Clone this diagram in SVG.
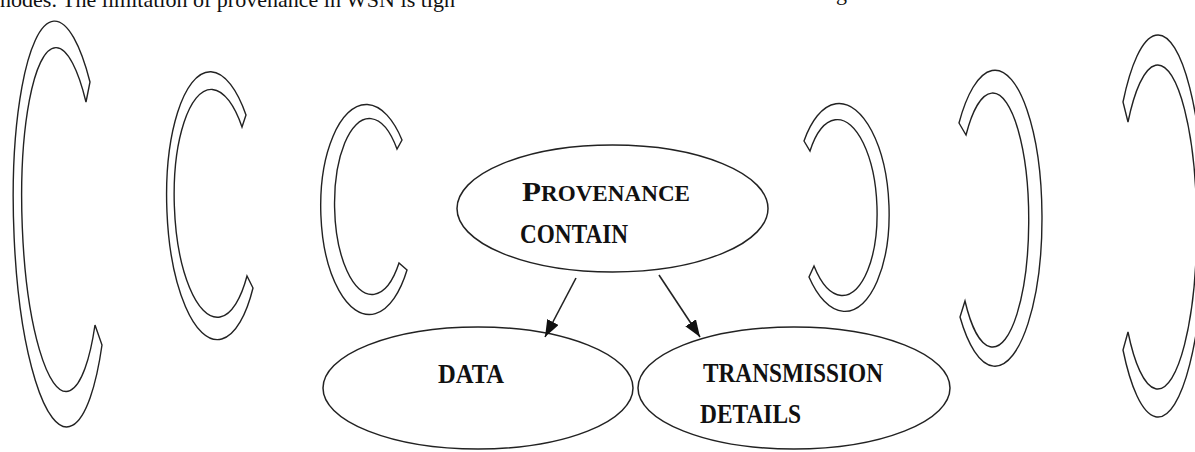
<svg xmlns="http://www.w3.org/2000/svg" width="1195" height="452" viewBox="0 0 1195 452">
<style>
.arc{fill:#fff;stroke:#222;stroke-width:1.4;stroke-linejoin:miter}
.node{fill:#fff;stroke:#222;stroke-width:1.5}
.lbl{font-family:"Liberation Serif","Times New Roman",serif;font-weight:bold;fill:#111}
.top{font-family:"Liberation Serif","Times New Roman",serif;font-size:22px;fill:#111}
.edge{stroke:#222;stroke-width:1.6;fill:none}
</style>
<defs>
<marker id="ah" viewBox="0 0 16 12" refX="16" refY="6" markerWidth="17" markerHeight="13" markerUnits="userSpaceOnUse" orient="auto">
<path d="M0,0 L16,6 L0,12 Z" fill="#111"/>
</marker>
</defs>
<text class="top" x="0" y="7" textLength="455" lengthAdjust="spacingAndGlyphs">nodes. The limitation of provenance in WSN is tigh</text>
<text class="top" x="836" y="0">g</text>

<g id="arc1"><path class="arc" d="M90,82 A47,203 -1.8 1 0 102,345 L95,325 A39,172 -1.8 1 1 86,102 Z"/></g>
<g id="arc2"><path class="arc" d="M246,115 A47,134 -1.7 1 0 253,288 L247,276 A40,114 -1.7 1 1 242,127 Z"/></g>
<g id="arc3"><path class="arc" d="M402,140 A47,105 -1 1 0 407,270 L399,263 A36,88 -1 1 1 397,149 Z"/></g>
<g id="arc4"><path class="arc" d="M804,141 A47,104 -2 1 1 809,277 L814,266 A37,88 -2 1 0 810,151 Z"/></g>
<g id="arc5"><path class="arc" d="M959,123 A47,148 0 1 1 960,317 L965,301 A36,127 0 1 0 966,135 Z"/></g>
<g id="arc6"><path class="arc" d="M1123,102 A46,191 0 1 1 1123,350 L1128,332 A39,162 0 1 0 1128,122 Z"/></g>

<g id="node-provenance">
<ellipse class="node" cx="612.5" cy="208.5" rx="155.5" ry="63.5"/>
<text class="lbl" y="201"><tspan x="522" font-size="28" textLength="19" lengthAdjust="spacingAndGlyphs">P</tspan><tspan x="541" font-size="23" textLength="149" lengthAdjust="spacingAndGlyphs">ROVENANCE</tspan></text>
<text class="lbl" x="520" y="243" font-size="28" textLength="108" lengthAdjust="spacingAndGlyphs">CONTAIN</text>
</g>
<g id="node-data">
<ellipse class="node" cx="478" cy="388" rx="155" ry="61"/>
<text class="lbl" x="438" y="383" font-size="28" textLength="66" lengthAdjust="spacingAndGlyphs">DATA</text>
</g>
<g id="node-transmission">
<ellipse class="node" cx="794" cy="388" rx="156" ry="61"/>
<text class="lbl" x="703" y="382" font-size="28" textLength="180" lengthAdjust="spacingAndGlyphs">TRANSMISSION</text>
<text class="lbl" x="700" y="423" font-size="28" textLength="101" lengthAdjust="spacingAndGlyphs">DETAILS</text>
</g>
<g id="connectors">
<line class="edge" x1="576" y1="278" x2="545" y2="337" marker-end="url(#ah)"/>
<line class="edge" x1="659" y1="275" x2="700" y2="337" marker-end="url(#ah)"/>
</g>
</svg>
